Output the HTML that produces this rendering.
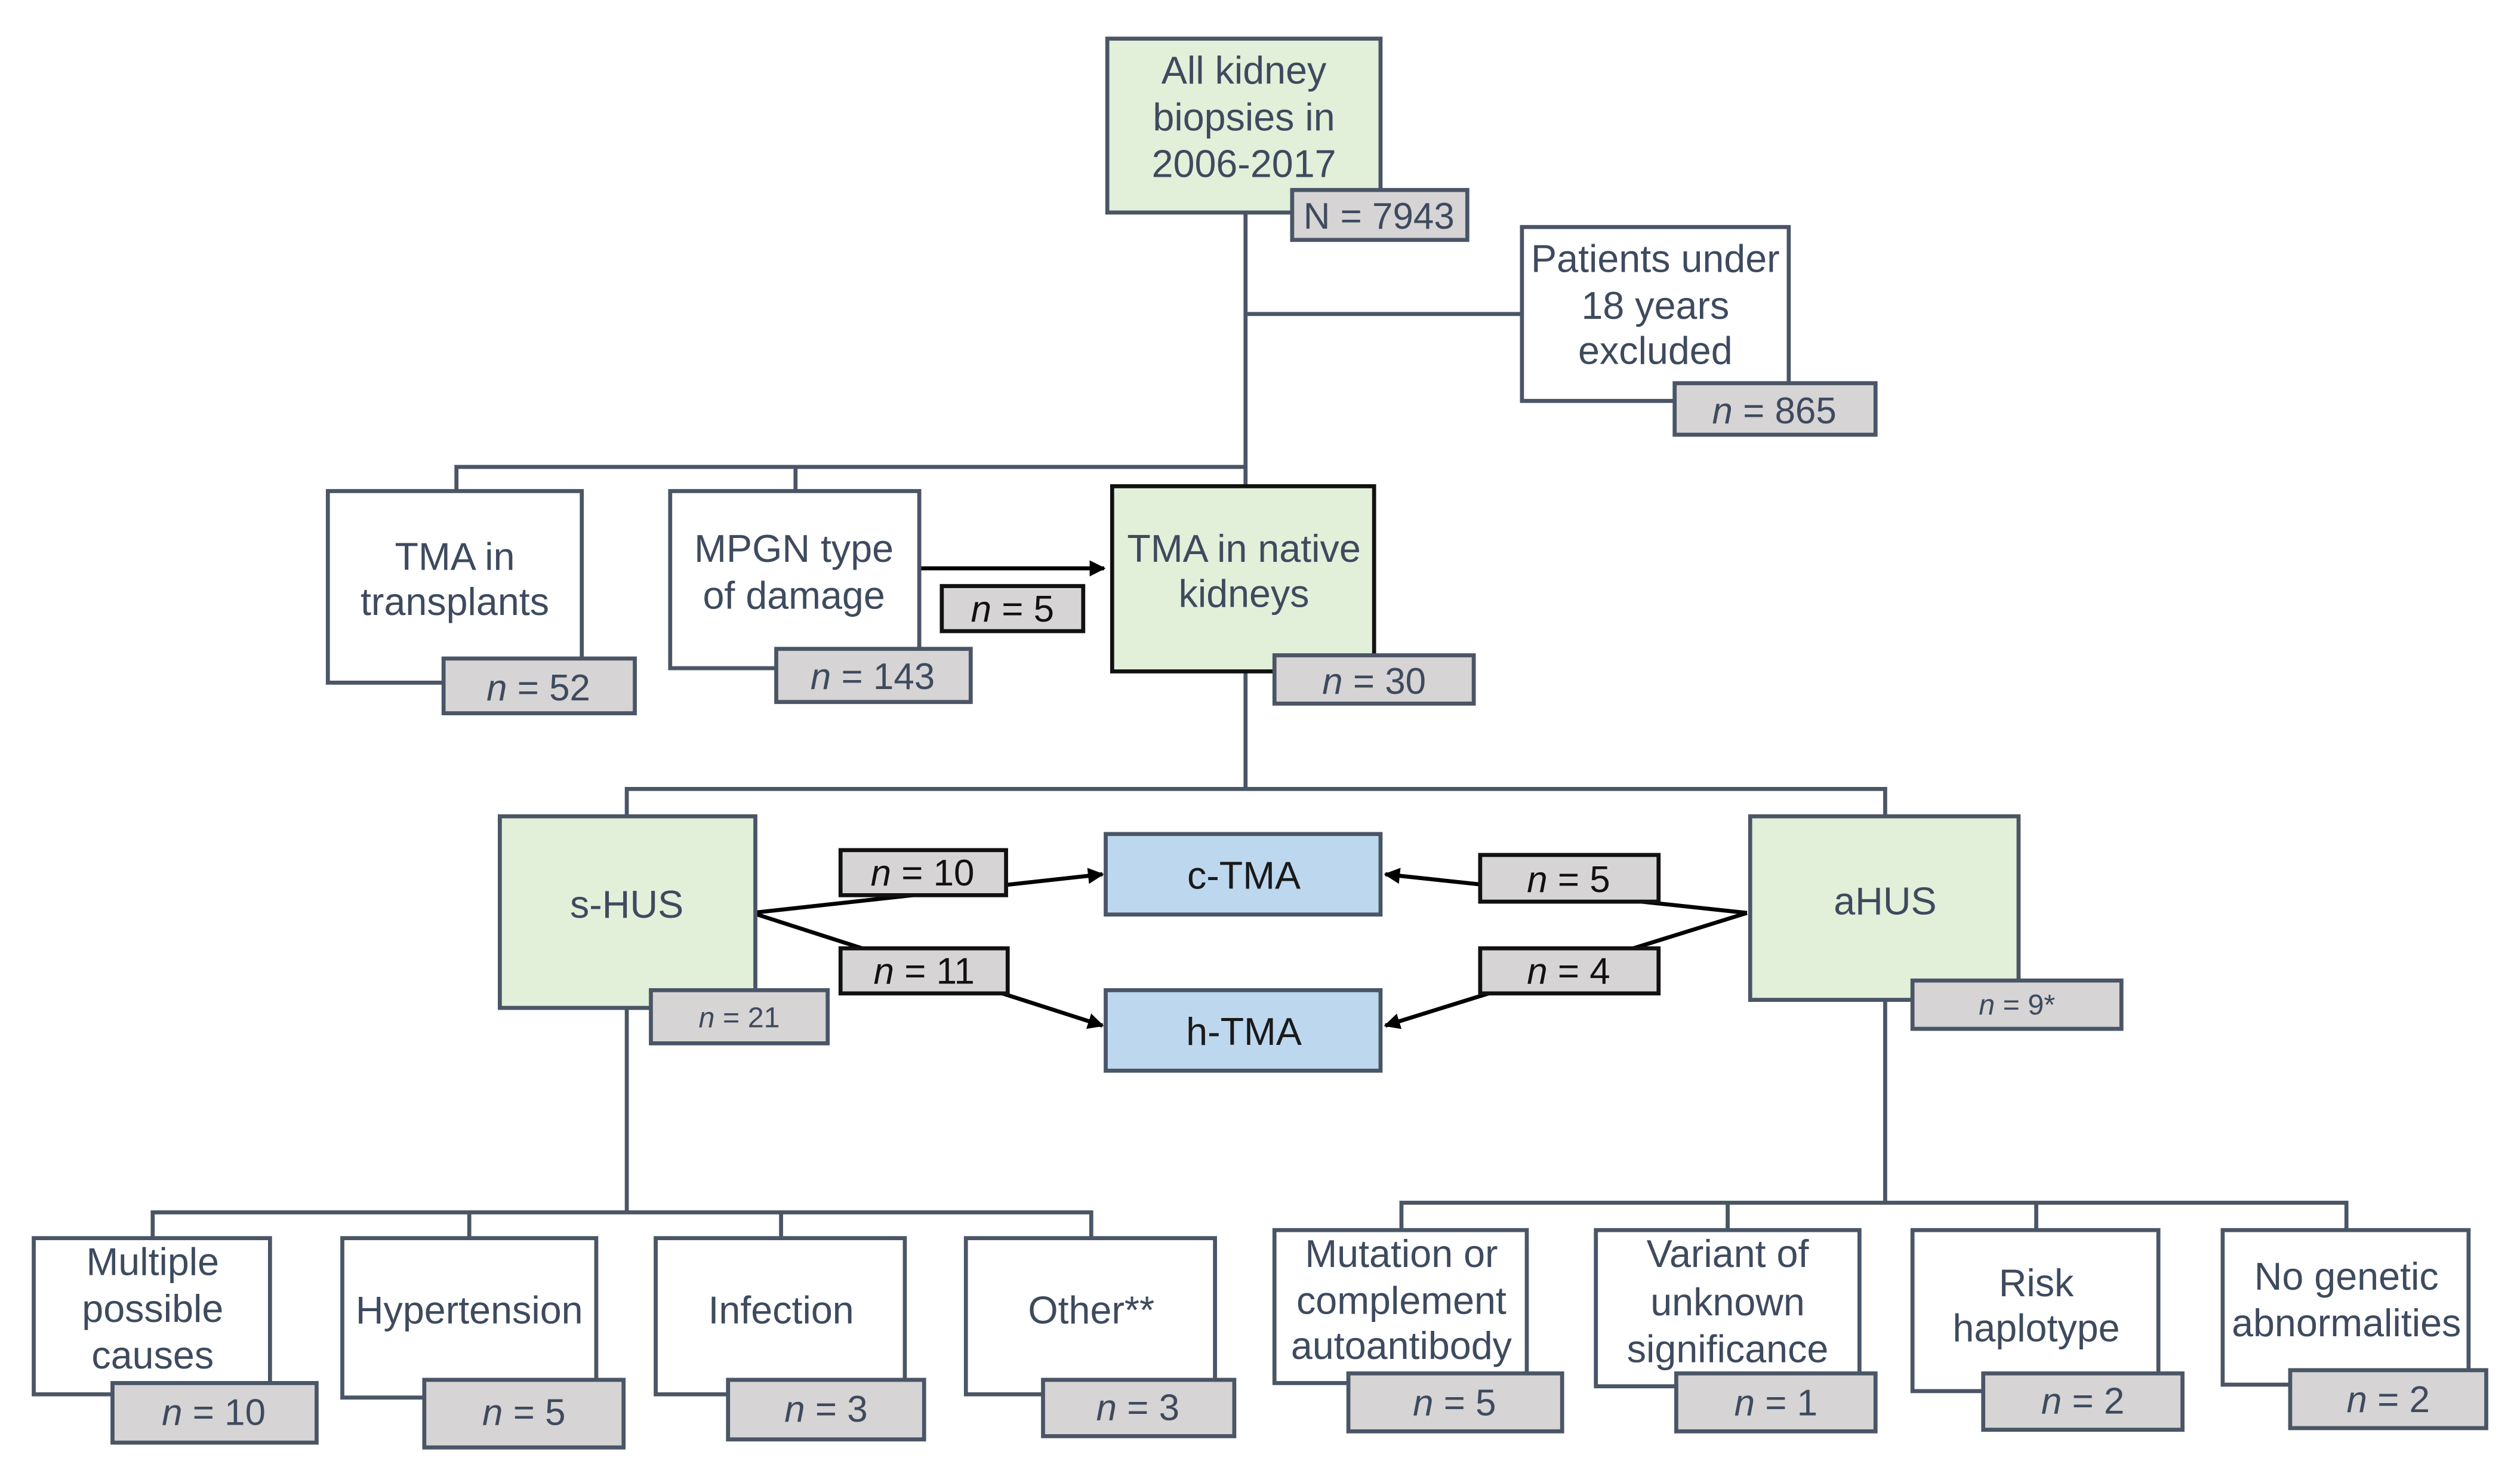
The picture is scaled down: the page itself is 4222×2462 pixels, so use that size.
<!DOCTYPE html>
<html><head><meta charset="utf-8"><style>
html,body{margin:0;padding:0;background:#fff;}
svg{display:block;}
text{font-family:"Liberation Sans",sans-serif;fill:#3e4a5e;font-size:24px;text-anchor:middle;}
.l text{font-size:23px;}
</style></head><body>
<svg width="4222" height="2462" viewBox="0 0 1568 913" preserveAspectRatio="none" xmlns="http://www.w3.org/2000/svg">
<defs><marker id="a" markerWidth="10" markerHeight="10" refX="9" refY="5" orient="auto" markerUnits="userSpaceOnUse"><path d="M0,0 L10,5 L0,10 z" fill="#000"/></marker></defs>
<g stroke="#4a5566" stroke-width="2.5" fill="none">
<path d="M775,132 V302 M775,195 H947 M284,305 V290 H775 M495,290 V305"/>
<path d="M775,417 V490 M390,507 V490 H1173 V507"/>
<path d="M390,626 V753 M95,769 V753 H679 V769 M292,753 V769 M486,753 V769"/>
<path d="M1173,621 V747 M872,764 V747 H1460 V764 M1075,747 V764 M1267,747 V764"/>
</g>
<g stroke="#000" stroke-width="2.5" fill="none">
<path d="M572,353 H687" marker-end="url(#a)"/>
<path d="M468,567 L686,543" marker-end="url(#a)"/>
<path d="M468,567 L686,637" marker-end="url(#a)"/>
<path d="M1087,567 L862,543" marker-end="url(#a)"/>
<path d="M1087,567 L862,637" marker-end="url(#a)"/>
</g>
<g stroke="#4a5566" stroke-width="2.5">
<rect x="689" y="24" width="170" height="108" fill="#e2efd9"/>
<rect x="947" y="141" width="166" height="108" fill="#fff"/>
<rect x="204" y="305" width="158" height="119" fill="#fff"/>
<rect x="417" y="305" width="155" height="110" fill="#fff"/>
<rect x="692" y="302" width="163" height="115" fill="#e2efd9" stroke="#111"/>
<rect x="311" y="507" width="159" height="119" fill="#e2efd9"/>
<rect x="1089" y="507" width="167" height="114" fill="#e2efd9"/>
<rect x="688" y="518" width="171" height="50" fill="#bdd7ee"/>
<rect x="688" y="615" width="171" height="50" fill="#bdd7ee"/>
<rect x="21" y="769" width="147" height="97" fill="#fff"/>
<rect x="213" y="769" width="158" height="99" fill="#fff"/>
<rect x="408" y="769" width="155" height="97" fill="#fff"/>
<rect x="601" y="769" width="155" height="97" fill="#fff"/>
<rect x="793" y="764" width="157" height="95" fill="#fff"/>
<rect x="993" y="764" width="164" height="97" fill="#fff"/>
<rect x="1190" y="764" width="153" height="100" fill="#fff"/>
<rect x="1383" y="764" width="153" height="96" fill="#fff"/>
</g>
<g stroke="#4a5566" stroke-width="2.5" fill="#d6d4d4">
<rect x="804" y="118" width="109" height="31"/>
<rect x="1042" y="238" width="125" height="32"/>
<rect x="276" y="409" width="119" height="34"/>
<rect x="483" y="403" width="121" height="33"/>
<rect x="586" y="364" width="88" height="28" stroke="#111"/>
<rect x="793" y="407" width="124" height="30"/>
<rect x="405" y="615" width="110" height="33"/>
<rect x="1190" y="609" width="130" height="30"/>
<rect x="523" y="528" width="103" height="28" stroke="#111"/>
<rect x="523" y="589" width="104" height="28" stroke="#111"/>
<rect x="921" y="531" width="111" height="29" stroke="#111"/>
<rect x="921" y="589" width="111" height="28" stroke="#111"/>
<rect x="70" y="859" width="127" height="37"/>
<rect x="264" y="857" width="124" height="42"/>
<rect x="453" y="857" width="122" height="37"/>
<rect x="649" y="857" width="119" height="35"/>
<rect x="839" y="853" width="133" height="36"/>
<rect x="1043" y="853" width="124" height="36"/>
<rect x="1234" y="853" width="124" height="35"/>
<rect x="1425" y="851" width="122" height="36"/>
</g>
<text x="774" y="52">All kidney</text><text x="774" y="81">biopsies in</text><text x="774" y="110">2006-2017</text>
<text x="1030" y="169">Patients under</text><text x="1030" y="198">18 years</text><text x="1030" y="226">excluded</text>
<text x="283" y="354">TMA in</text><text x="283" y="382">transplants</text>
<text x="494" y="349">MPGN type</text><text x="494" y="378">of damage</text>
<text x="774" y="349">TMA in native</text><text x="774" y="377">kidneys</text>
<text x="390" y="570">s-HUS</text>
<text x="1173" y="568">aHUS</text>
<text x="774" y="552" style="fill:#1a1a1a">c-TMA</text>
<text x="774" y="649" style="fill:#1a1a1a">h-TMA</text>
<text x="95" y="792">Multiple</text><text x="95" y="821">possible</text><text x="95" y="850">causes</text>
<text x="292" y="822">Hypertension</text>
<text x="486" y="822">Infection</text>
<text x="679" y="822">Other**</text>
<text x="872" y="787">Mutation or</text><text x="872" y="816">complement</text><text x="872" y="844">autoantibody</text>
<text x="1075" y="787">Variant of</text><text x="1075" y="817">unknown</text><text x="1075" y="846">significance</text>
<text x="1267" y="805">Risk</text><text x="1267" y="833">haplotype</text>
<text x="1460" y="801">No genetic</text><text x="1460" y="830">abnormalities</text>
<g class="l">
<text x="858" y="142">N = 7943</text>
<text x="1104" y="263"><tspan font-style="italic">n</tspan> = 865</text>
<text x="335" y="435"><tspan font-style="italic">n</tspan> = 52</text>
<text x="543" y="428"><tspan font-style="italic">n</tspan> = 143</text>
<text x="630" y="386" style="fill:#111"><tspan font-style="italic">n</tspan> = 5</text>
<text x="855" y="431"><tspan font-style="italic">n</tspan> = 30</text>
<text x="460" y="638" style="font-size:18px"><tspan font-style="italic">n</tspan> = 21</text>
<text x="1255" y="630" style="font-size:18px"><tspan font-style="italic">n</tspan> = 9*</text>
<text x="574" y="550" style="fill:#111"><tspan font-style="italic">n</tspan> = 10</text>
<text x="575" y="611" style="fill:#111"><tspan font-style="italic">n</tspan> = 11</text>
<text x="976" y="554" style="fill:#111"><tspan font-style="italic">n</tspan> = 5</text>
<text x="976" y="611" style="fill:#111"><tspan font-style="italic">n</tspan> = 4</text>
<text x="133" y="885"><tspan font-style="italic">n</tspan> = 10</text>
<text x="326" y="885"><tspan font-style="italic">n</tspan> = 5</text>
<text x="514" y="883"><tspan font-style="italic">n</tspan> = 3</text>
<text x="708" y="882"><tspan font-style="italic">n</tspan> = 3</text>
<text x="905" y="879"><tspan font-style="italic">n</tspan> = 5</text>
<text x="1105" y="879"><tspan font-style="italic">n</tspan> = 1</text>
<text x="1296" y="878"><tspan font-style="italic">n</tspan> = 2</text>
<text x="1486" y="877"><tspan font-style="italic">n</tspan> = 2</text>
</g>
</svg>
</body></html>
